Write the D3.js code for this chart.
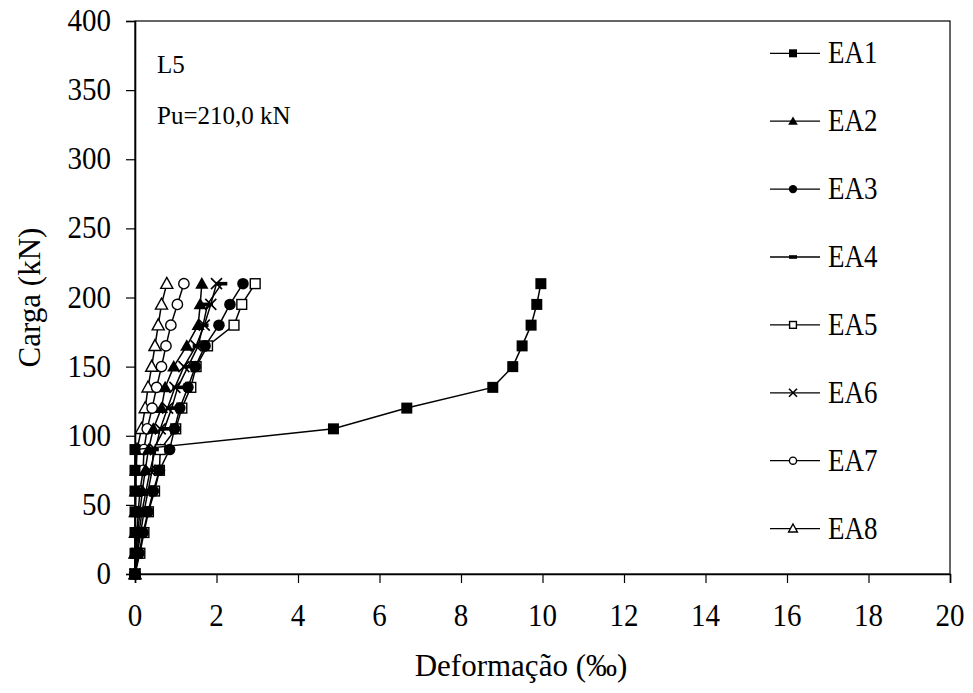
<!DOCTYPE html>
<html><head><meta charset="utf-8">
<script src="https://cdn.jsdelivr.net/npm/d3@7"></script>
<style>body{margin:0;background:#fff}svg text{font-family:"Liberation Serif","Times New Roman",serif;fill:#000}</style>
</head><body><svg id="c" width="973" height="693"></svg>
<script>
const loads = [0,15,30,45,60,75,90,105,120,135,150,165,180,195,210];
const EA1 = [0,0,0,0,0,0,0,4.87,6.67,8.78,9.27,9.5,9.72,9.86,9.96];
const EA2 = [0,0.03,0.07,0.12,0.18,0.25,0.33,0.45,0.65,0.74,0.95,1.27,1.55,1.6,1.64];
const EA3 = [0,0.1,0.2,0.32,0.45,0.6,0.85,0.97,1.1,1.3,1.48,1.72,2.06,2.33,2.65];
const EA4 = [0,0.06,0.14,0.22,0.32,0.42,0.45,0.72,0.9,1.05,1.3,1.55,1.67,1.78,2.13];
const EA5 = [0,0.12,0.22,0.33,0.48,0.6,0.62,1.0,1.15,1.37,1.5,1.78,2.43,2.62,2.95];
const EA6 = [0,0.05,0.1,0.17,0.27,0.37,0.5,0.62,0.8,0.98,1.2,1.5,1.7,1.86,2.0];
const EA7 = [0,0.02,0.05,0.08,0.12,0.2,0.22,0.3,0.42,0.53,0.65,0.76,0.88,1.04,1.2];
const EA8 = [0,0,0.01,0.01,0.02,0.03,0.05,0.16,0.25,0.32,0.41,0.49,0.57,0.65,0.78];
const seriesNames = ["EA1","EA2","EA3","EA4","EA5","EA6","EA7","EA8"];
const seriesValues = [EA1,EA2,EA3,EA4,EA5,EA6,EA7,EA8];
const markers = ["squareF","triF","circF","dash","squareO","cross","circO","triO"];
const xTicks = [0,2,4,6,8,10,12,14,16,18,20];
const yTicks = [0,50,100,150,200,250,300,350,400];
const annotations = ["L5","Pu=210,0 kN"];

const svg = d3.select("#c");
const L=135,R=950,T=21,B=574;
const x = d3.scaleLinear().domain([0,20]).range([L,R]);
const y = d3.scaleLinear().domain([0,400]).range([B,T]);

function txt(g, s, px, py, anchor, fs, sy, rot){
  return g.append("text").attr("transform",`translate(${px},${py})`+(rot?` rotate(${rot})`:"")+` scale(1,${sy})`)
    .attr("text-anchor",anchor).attr("font-size",fs).text(s);
}

svg.append("rect").attr("x",L).attr("y",T).attr("width",R-L).attr("height",B-T)
  .attr("fill","none").attr("stroke","#000").attr("stroke-width",1.2);

const ax = svg.append("g").attr("transform",`translate(0,${B})`)
  .call(d3.axisBottom(x).tickValues(xTicks).tickSize(9).tickFormat(""));
const ay = svg.append("g").attr("transform",`translate(${L},0)`)
  .call(d3.axisLeft(y).tickValues(yTicks).tickSize(9).tickFormat(""));
[ax,ay].forEach(a=>{a.selectAll("path").attr("stroke","#000").attr("stroke-width",1.6);
  a.selectAll("line").attr("stroke","#000").attr("stroke-width",1.2);});

xTicks.forEach(v=>txt(svg, String(v), x(v), 626, "middle", 29, 1.07));
yTicks.forEach(v=>txt(svg, String(v), 111, y(v)+10, "end", 29, 1.07));

txt(svg, "Deformação (‰)", 521, 676, "middle", 31, 1.0);
txt(svg, "Carga (kN)", 40, (T+B)/2, "middle", 31, 1.0, -90);

txt(svg, annotations[0], 157, 73, "start", 25, 1.0);
txt(svg, annotations[1], 157, 124, "start", 25, 1.0);

function marker(g, type, cx, cy, s){
  const h=s/2, sw=1.4;
  switch(type){
    case "squareF": g.append("rect").attr("x",cx-h).attr("y",cy-h).attr("width",s).attr("height",s).attr("fill","#000"); break;
    case "squareO": g.append("rect").attr("x",cx-h+0.6).attr("y",cy-h+0.6).attr("width",s-1.2).attr("height",s-1.2).attr("fill","#fff").attr("stroke","#000").attr("stroke-width",sw); break;
    case "triF": g.append("path").attr("d",`M${cx},${cy-h*1.2}L${cx+h*1.2},${cy+h*0.9}L${cx-h*1.2},${cy+h*0.9}Z`).attr("fill","#000"); break;
    case "triO": g.append("path").attr("d",`M${cx},${cy-h*1.15}L${cx+h*1.1},${cy+h*0.85}L${cx-h*1.1},${cy+h*0.85}Z`).attr("fill","#fff").attr("stroke","#000").attr("stroke-width",sw); break;
    case "circF": g.append("circle").attr("cx",cx).attr("cy",cy).attr("r",h*1.05).attr("fill","#000"); break;
    case "circO": g.append("circle").attr("cx",cx).attr("cy",cy).attr("r",h*1.05-0.6).attr("fill","#fff").attr("stroke","#000").attr("stroke-width",sw); break;
    case "dash": g.append("rect").attr("x",cx-h).attr("y",cy-1.8).attr("width",s).attr("height",3.6).attr("fill","#000"); break;
    case "cross": g.append("path").attr("d",`M${cx-h},${cy-h}L${cx+h},${cy+h}M${cx-h},${cy+h}L${cx+h},${cy-h}`).attr("stroke","#000").attr("stroke-width",1.6); break;
  }
}

const line = d3.line().x(d=>x(d[0])).y(d=>y(d[1]));
// drawn last-series-first so filled markers sit on top in the dense region
d3.range(seriesValues.length).reverse().forEach(i=>{
  const pts = seriesValues[i].map((v,j)=>[v,loads[j]]);
  const g = svg.append("g");
  g.append("path").attr("d",line(pts)).attr("fill","none").attr("stroke","#000").attr("stroke-width",1.5);
  pts.forEach(p=>marker(g, markers[i], x(p[0]), y(p[1]), 11));
});

seriesNames.forEach((n,i)=>{
  const cy = 53.3 + i*67.9;
  const g = svg.append("g");
  g.append("line").attr("x1",770).attr("x2",820).attr("y1",cy).attr("y2",cy).attr("stroke","#000").attr("stroke-width",1.3);
  marker(g, markers[i], 793, cy, 8);
  txt(g, n, 828, cy+10, "start", 27, 1.15);
});
</script></body></html>
